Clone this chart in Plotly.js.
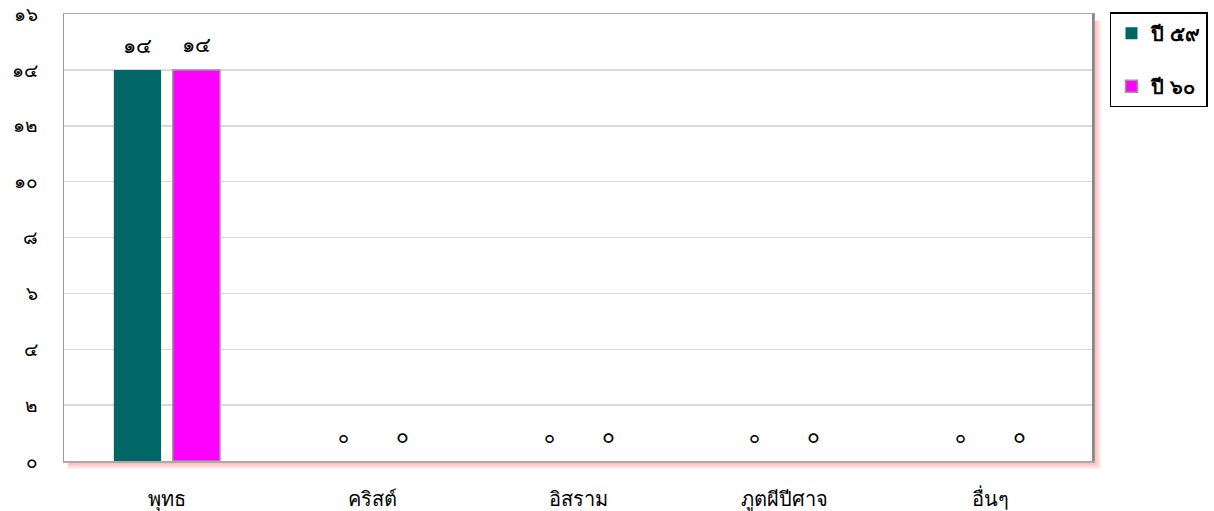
<!DOCTYPE html>
<html>
<head>
<meta charset="utf-8">
<script src="https://cdn.plot.ly/plotly-3.0.1.min.js"></script>
<style>html,body{margin:0;padding:0;background:#fff;}#chart{width:1214px;height:511px;}</style>
</head>
<body>
<div id="chart"></div>
<script>
const categories = ['พุทธ', 'คริสต์', 'อิสราม', 'ภูตผีปีศาจ', 'อื่นๆ'];
const seriesNames = ['ปี ๕๙', 'ปี ๖๐'];
const values59 = [14, 0, 0, 0, 0];
const values60 = [14, 0, 0, 0, 0];
const labels59 = ['๑๔', '๐', '๐', '๐', '๐'];
const labels60 = ['๑๔', '๐', '๐', '๐', '๐'];
const tickVals = [0, 2, 4, 6, 8, 10, 12, 14, 16];
const tickText = ['๐', '๒', '๔', '๖', '๘', '๑๐', '๑๒', '๑๔', '๑๖'];

const FONT = 'Noto Sans, DejaVu Sans, sans-serif';

const traces = [
  {
    type: 'bar', name: seriesNames[0], legendgroup: 'a', x: categories, y: values59,
    marker: {color: '#006666', line: {width: 0}}
  },
  {
    type: 'bar', name: seriesNames[1], legendgroup: 'b', x: categories, y: values60,
    marker: {color: '#FF00FF', line: {width: values60.map(v => v > 0 ? 1.5 : 0), color: '#999999'}}
  }
];

const annotations = [];
categories.forEach((c, i) => {
  annotations.push({x: c, y: values59[i], xref: 'x', yref: 'y', text: labels59[i],
    showarrow: false, xshift: -29.5, yshift: 25, font: {size: labels59[i] === '๐' ? 18 : 21, family: FONT, color: '#000'}});
  annotations.push({x: c, y: values60[i], xref: 'x', yref: 'y', text: labels60[i],
    showarrow: false, xshift: 29.5, yshift: 26, font: {size: 21, family: FONT, color: '#000'}});
});

const shadowShapes = [];
const N = 8;
for (let i = 0; i < N; i++) {
  const px = (i + 1);
  shadowShapes.push({
    type: 'rect', xref: 'paper', yref: 'paper', layer: 'below',
    x0: 0.004, x1: 1 + px / 1029,
    y0: -px / 447, y1: 0.985,
    line: {width: 0}, fillcolor: 'rgba(255,110,110,0.09)'
  });
}
shadowShapes.push({
  type: 'rect', xref: 'paper', yref: 'paper', layer: 'below',
  x0: 0, x1: 1, y0: 0, y1: 1, line: {width: 0}, fillcolor: '#ffffff'
});
shadowShapes.push({
  type: 'line', xref: 'paper', yref: 'paper', layer: 'above',
  x0: 1, x1: 1, y0: 0, y1: 1, line: {width: 2, color: '#888888'}
});

const layout = {
  width: 1214, height: 511,
  margin: {l: 64, r: 121, t: 14, b: 50, autoexpand: false},
  paper_bgcolor: '#ffffff', plot_bgcolor: 'rgba(0,0,0,0)',
  font: {family: FONT, color: '#000'},
  barmode: 'group', bargap: 0.427, bargroupgap: 0.2,
  showlegend: true,
  legend: {
    x: 1.0165, y: 1.004, xanchor: 'left', yanchor: 'top',
    bordercolor: '#000', borderwidth: 1.5, bgcolor: '#fff',
    font: {size: 20, family: FONT, weight: 'bold'},
    itemwidth: 30, tracegroupgap: 24,
    traceorder: 'grouped'
  },
  xaxis: {
    type: 'category', showgrid: false, zeroline: false,
    showline: true, mirror: true, linecolor: '#aaaaaa', linewidth: 1.5,
    ticks: '', tickfont: {size: 20, family: FONT}, ticklabelstandoff: 19,
    automargin: false
  },
  yaxis: {
    range: [0, 16], tickvals: tickVals, ticktext: tickText,
    showgrid: true, gridcolor: '#d9d9d9', gridwidth: 1.5, zeroline: false,
    showline: true, mirror: true, linecolor: '#999999', linewidth: 1.5,
    ticks: '', ticklabelstandoff: 21, tickfont: {size: 19, family: FONT},
    automargin: false
  },
  shapes: shadowShapes,
  annotations: annotations
};

Plotly.newPlot('chart', traces, layout, {displayModeBar: false, staticPlot: true});
</script>
</body>
</html>
